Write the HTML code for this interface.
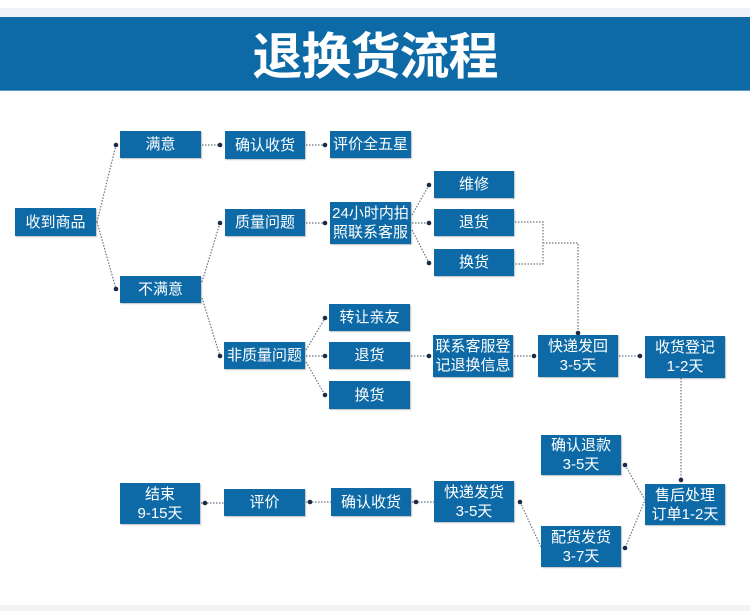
<!DOCTYPE html>
<html><head><meta charset="utf-8">
<style>
html,body{margin:0;padding:0;background:#fff;}
body{width:750px;height:611px;position:relative;overflow:hidden;font-family:"Liberation Sans","Noto Sans CJK SC",sans-serif;}
.top{position:absolute;left:0;top:8px;width:750px;height:9px;background:#eef1f6;}
.hdr{position:absolute;left:0;top:17px;width:750px;height:73px;background:#0d6aa6;border-bottom:1px solid #5b9bc8;}
.hdr div{position:absolute;left:0;width:750px;top:8px;text-align:center;color:#fff;font-size:50px;font-weight:bold;line-height:56px;letter-spacing:-1px;font-family:"Noto Sans CJK SC",sans-serif;}
.b{position:absolute;background:#0d6aa6;color:#fff;font-size:15px;line-height:19px;text-align:center;display:flex;align-items:center;justify-content:center;box-sizing:border-box;box-shadow:1px 1px 1px rgba(0,0,0,.25);}
svg{position:absolute;left:0;top:0;}
.bot{position:absolute;left:0;top:605px;width:750px;height:6px;background:#f2f3f6;}
</style></head><body>
<div class="top"></div>
<div class="hdr"><div>退换货流程</div></div>
<svg width="750" height="611">
<g stroke="#6b7685" stroke-width="1.2" stroke-dasharray="1.5,1.5" fill="none">
<path d="M97 222 L116 145 M97 222 L116 289"/>
<path d="M202 145 H220 M306 145 H325"/>
<path d="M202 282 L220 223 M202 298 L220 356"/>
<path d="M306 223 H325"/>
<path d="M412 215 L429 185 M412 223 H429 M412 230 L429 263"/>
<path d="M306 350 L325 318 M306 356 H325 M306 362 L325 395"/>
<path d="M411 356 H428 M514 356 H534 M619 356 H640"/>
<path d="M515 222 H543 V264 H515 M543 243 H578 V333"/>
<path d="M681 378 V480"/>
<path d="M201 503 H224 M306 502 H331 M412 502 H434"/>
<path d="M520 502 L541 547 M625 465 L645 500 L625 548"/>
</g>
<g fill="#1b2a45">
<circle cx="116" cy="145" r="2.3"/><circle cx="116" cy="289" r="2.3"/>
<circle cx="220" cy="145" r="2.3"/><circle cx="325" cy="145" r="2.3"/>
<circle cx="220" cy="223" r="2.3"/><circle cx="220" cy="356" r="2.3"/>
<circle cx="325" cy="223" r="2.3"/>
<circle cx="429" cy="185" r="2.3"/><circle cx="429" cy="223" r="2.3"/><circle cx="429" cy="263" r="2.3"/>
<circle cx="325" cy="318" r="2.3"/><circle cx="325" cy="356" r="2.3"/><circle cx="325" cy="395" r="2.3"/>
<circle cx="429" cy="356" r="2.3"/><circle cx="534" cy="356" r="2.3"/><circle cx="640" cy="356" r="2.3"/>
<circle cx="578" cy="333" r="2.3"/><circle cx="681" cy="480" r="2.3"/>
<circle cx="205" cy="503" r="2.3"/><circle cx="310" cy="502" r="2.3"/><circle cx="416" cy="502" r="2.3"/>
<circle cx="520" cy="502" r="2.3"/><circle cx="625" cy="465" r="2.3"/><circle cx="625" cy="548" r="2.3"/>
</g>
</svg>
<div class="b" style="left:15px;top:208px;width:81px;height:28px">收到商品</div>
<div class="b" style="left:120px;top:131px;width:81px;height:27px">满意</div>
<div class="b" style="left:120px;top:276px;width:81px;height:27px">不满意</div>
<div class="b" style="left:225px;top:131px;width:80px;height:28px">确认收货</div>
<div class="b" style="left:330px;top:131px;width:81px;height:27px">评价全五星</div>
<div class="b" style="left:225px;top:209px;width:80px;height:27px">质量问题</div>
<div class="b" style="left:330px;top:202px;width:81px;height:42px">24小时内拍<br>照联系客服</div>
<div class="b" style="left:434px;top:171px;width:80px;height:27px">维修</div>
<div class="b" style="left:434px;top:209px;width:80px;height:27px">退货</div>
<div class="b" style="left:434px;top:249px;width:80px;height:27px">换货</div>
<div class="b" style="left:329px;top:304px;width:81px;height:27px">转让亲友</div>
<div class="b" style="left:224px;top:342px;width:81px;height:27px">非质量问题</div>
<div class="b" style="left:329px;top:342px;width:81px;height:27px">退货</div>
<div class="b" style="left:329px;top:381px;width:81px;height:28px">换货</div>
<div class="b" style="left:433px;top:335px;width:80px;height:42px">联系客服登<br>记退换信息</div>
<div class="b" style="left:538px;top:335px;width:80px;height:42px">快递发回<br>3-5天</div>
<div class="b" style="left:645px;top:336px;width:80px;height:42px">收货登记<br>1-2天</div>
<div class="b" style="left:541px;top:435px;width:80px;height:40px">确认退款<br>3-5天</div>
<div class="b" style="left:645px;top:484px;width:80px;height:41px">售后处理<br>订单1-2天</div>
<div class="b" style="left:541px;top:526px;width:80px;height:41px">配货发货<br>3-7天</div>
<div class="b" style="left:434px;top:481px;width:80px;height:41px">快递发货<br>3-5天</div>
<div class="b" style="left:331px;top:488px;width:80px;height:28px">确认收货</div>
<div class="b" style="left:224px;top:489px;width:81px;height:27px">评价</div>
<div class="b" style="left:120px;top:483px;width:80px;height:41px">结束<br>9-15天</div>
<div class="bot"></div>
</body></html>
